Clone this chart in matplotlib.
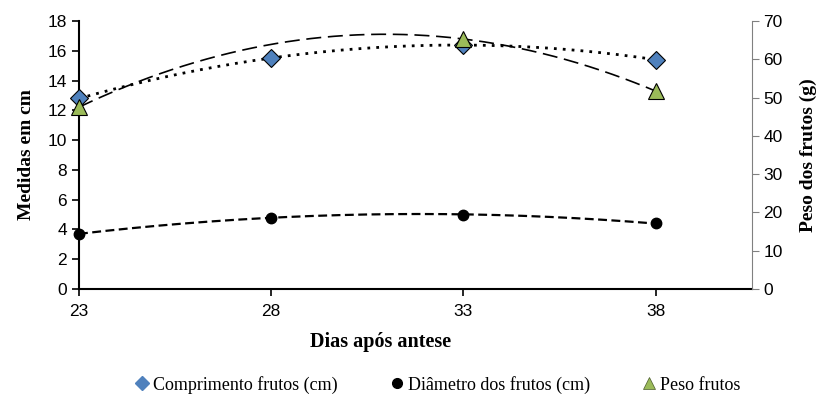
import matplotlib.pyplot as plt
import numpy as np

# dados
dias = [23, 28, 33, 38]
comprimento = [12.8, 15.5, 16.4, 15.4]
diametro = [3.7, 4.8, 5.0, 4.4]
dias_peso = [23, 33, 38]
peso = [47.5, 65.3, 51.7]

azul = '#4F81BD'
verde = '#9BBB59'
cinza = '#808080'
serif = 'Liberation Serif'
sans = 'Liberation Sans'

fig = plt.figure(figsize=(8.27, 4.05), dpi=100)
ax = fig.add_axes([0.0955, 0.2864, 0.8135, 0.6617])
ax2 = ax.twinx()

xs = np.linspace(23, 38, 200)

# linhas de tendencia polinomial (ordem 2)
c1 = np.polyfit(dias, comprimento, 2)
c2 = np.polyfit(dias, diametro, 2)
c3 = np.polyfit(dias_peso, peso, 2)

ax.plot(xs, np.polyval(c1, xs), color='black', lw=2.0, ls=(0, (1, 2.2)), zorder=2)
ax.plot(xs, np.polyval(c2, xs), color='black', lw=1.6, ls=(0, (4, 2)), zorder=2)
ax.plot(dias, comprimento, ls='none', marker='D', ms=9.5, mfc=azul, mec='black', mew=0.8,
        zorder=3, clip_on=False)
ax.plot(dias, diametro, ls='none', marker='o', ms=7.5, mfc='black', mec='black', zorder=3,
        clip_on=False)

ax2.plot(xs, np.polyval(c3, xs), color='black', lw=1.2, ls=(0, (9, 4)), zorder=2)
ax2.plot(dias_peso, peso, ls='none', marker='^', ms=12, mfc=verde, mec='black', mew=0.8,
         zorder=3, clip_on=False)

ax.set_xlim(23, 40.5)
ax.set_ylim(0, 18)
ax2.set_ylim(0, 70)
ax.set_xticks(dias)
ax.set_yticks(range(0, 19, 2))
ax2.set_yticks(range(0, 71, 10))

for a in (ax, ax2):
    a.spines['top'].set_visible(False)
ax.spines['right'].set_visible(False)
ax2.spines['left'].set_visible(False)
ax2.spines['bottom'].set_visible(False)
ax2.spines['right'].set_color(cinza)
ax.spines['left'].set_linewidth(1.5)
ax.spines['bottom'].set_linewidth(1.5)

ax.tick_params(axis='both', direction='out', length=5, width=1.2, labelsize=12.5)
ax2.tick_params(axis='y', direction='out', length=5, color=cinza, labelsize=12.5)
for lab in ax.get_xticklabels() + ax.get_yticklabels() + ax2.get_yticklabels():
    lab.set_fontfamily(sans)
ax.tick_params(axis='x', pad=6)

ax.set_ylabel('Medidas em cm', fontfamily=serif, fontweight='bold', fontsize=14, labelpad=9)
ax2.set_ylabel('Peso dos frutos (g)', fontfamily=serif, fontweight='bold', fontsize=14, labelpad=12)
fig.text(0.46, 0.155, 'Dias após antese', fontfamily=serif, fontweight='bold', fontsize=14.5,
         ha='center', va='center')

h1 = plt.Line2D([], [], ls='none', marker='D', ms=7, mfc=azul, mec=azul)
h2 = plt.Line2D([], [], ls='none', marker='o', ms=7, mfc='black', mec='black')
h3 = plt.Line2D([], [], ls='none', marker='^', ms=8, mfc=verde, mec='#4a5a2a', mew=0.5)
fig.legend([h1, h2, h3],
           ['Comprimento frutos (cm)', 'Diâmetro dos frutos (cm)', 'Peso frutos'],
           loc='center', bbox_to_anchor=(0.528, 0.05), ncol=3, frameon=False,
           prop={'family': serif, 'size': 13}, handletextpad=0.1, columnspacing=2.8,
           handlelength=1.0)

fig.savefig('out.png', dpi=100)
